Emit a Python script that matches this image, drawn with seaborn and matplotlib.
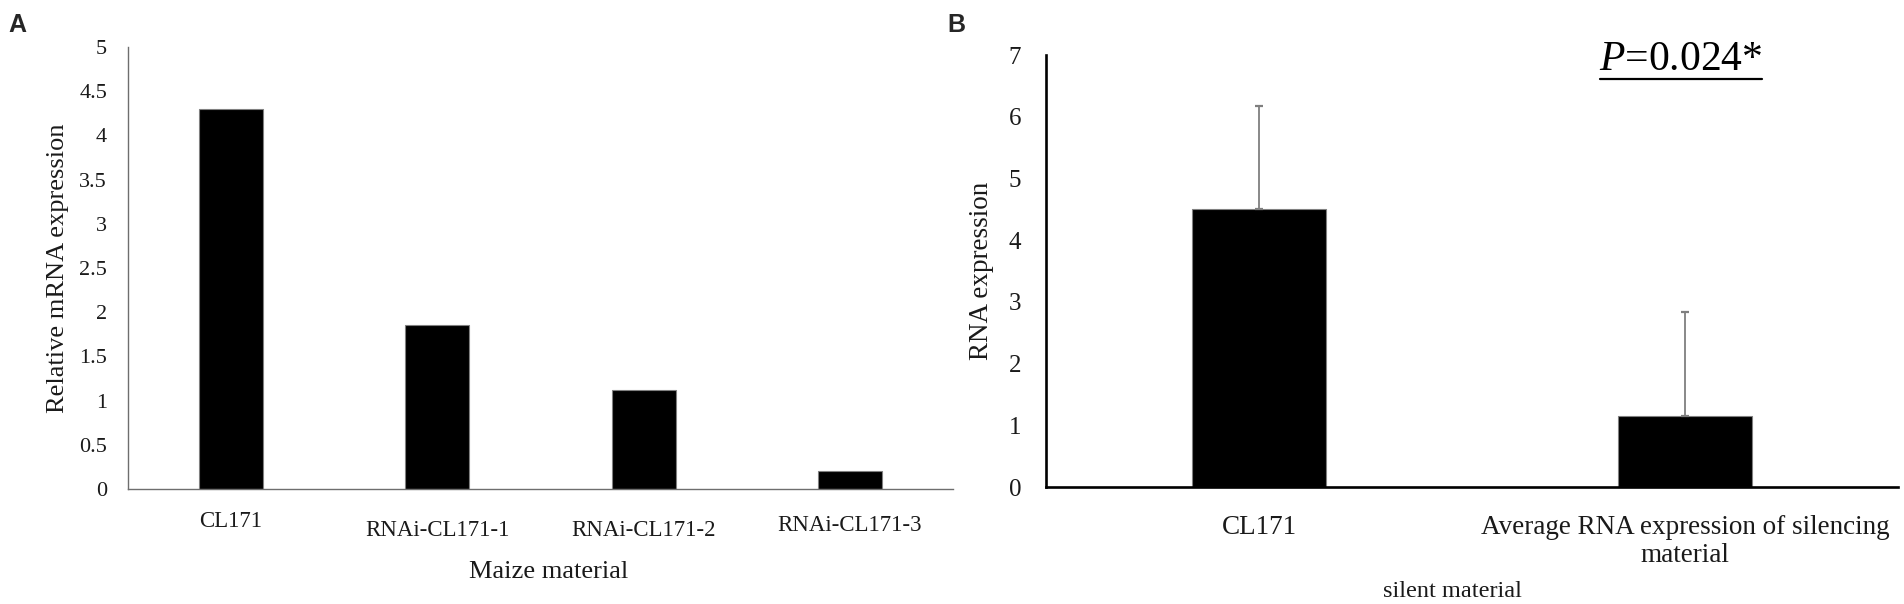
import matplotlib
matplotlib.use("Agg")
import matplotlib.pyplot as plt
import seaborn as sns
from matplotlib.lines import Line2D
from matplotlib.transforms import ScaledTranslation

# ---- data ----
a_categories = ["CL171", "RNAi-CL171-1", "RNAi-CL171-2", "RNAi-CL171-3"]
a_values = [4.3, 1.85, 1.12, 0.2]
a_yticks = [0, 0.5, 1, 1.5, 2, 2.5, 3, 3.5, 4, 4.5, 5]

b_categories = ["CL171", "Average RNA expression of silencing\nmaterial"]
b_values = [4.5, 1.15]
b_err_upper = [1.67, 1.69]
b_yticks = [0, 1, 2, 3, 4, 5, 6, 7]
p_text = r"$P$=0.024*"

sns.set_style("white")
plt.rcParams["font.family"] = ["Liberation Serif", "DejaVu Serif"]
plt.rcParams["mathtext.fontset"] = "custom"
plt.rcParams["mathtext.rm"] = "Liberation Serif"
plt.rcParams["mathtext.it"] = "Liberation Serif:italic"

W, H = 1904, 604
fig = plt.figure(figsize=(W / 100, H / 100), dpi=100)

def px_axes(left, top, right, bottom):
    return fig.add_axes([left / W, 1 - bottom / H, (right - left) / W, (bottom - top) / H])

txt = "#1a1a1a"

# ---------------- Panel A ----------------
axA = px_axes(128, 47, 953, 489)
sns.barplot(x=a_categories, y=a_values, color="black", saturation=1, width=0.31,
            edgecolor="#808080", linewidth=0.8, ax=axA)
axA.set_xlim(-0.5, len(a_categories) - 0.5)
axA.set_ylim(0, 5)
axA.set_yticks(a_yticks)
axA.set_yticklabels([f"{t:g}" for t in a_yticks])
for s in ["top", "right"]:
    axA.spines[s].set_visible(False)
for s in ["left", "bottom"]:
    axA.spines[s].set_color("#6e6e6e")
    axA.spines[s].set_linewidth(1.0)
axA.tick_params(axis="both", length=0, labelcolor=txt)
axA.tick_params(axis="y", labelsize=16, pad=15)
axA.tick_params(axis="x", labelsize=16.5, pad=22)
offsA = [9, 0, 0, 5]
for lab, dy in zip(axA.get_xticklabels(), offsA):
    lab.set_transform(lab.get_transform() + ScaledTranslation(0, dy / 100, fig.dpi_scale_trans))
axA.set_ylabel("Relative mRNA expression", fontsize=19, color=txt, va="center")
axA.yaxis.set_label_coords(-0.085, 0.5)
axA.set_xlabel("Maize material", fontsize=19, color=txt, va="center")
axA.xaxis.set_label_coords(0.51, -0.188)

# ---------------- Panel B ----------------
axB = px_axes(1046, 55, 1898, 487)
sns.barplot(x=b_categories, y=b_values, color="black", saturation=1, width=0.315,
            edgecolor="#808080", linewidth=0.8, ax=axB)
axB.errorbar(x=range(len(b_values)), y=b_values,
             yerr=[[0] * len(b_values), b_err_upper],
             fmt="none", ecolor="#7f7f7f", elinewidth=1.3, capsize=3.2, capthick=1.6)
axB.set_xlim(-0.5, len(b_categories) - 0.5)
axB.set_ylim(0, 7)
axB.set_yticks(b_yticks)
for s in ["top", "right"]:
    axB.spines[s].set_visible(False)
for s in ["left", "bottom"]:
    axB.spines[s].set_color("black")
    axB.spines[s].set_linewidth(1.9)
axB.tick_params(axis="both", length=0, labelcolor=txt)
axB.tick_params(axis="y", labelsize=18, pad=18)
axB.tick_params(axis="x", labelsize=19.5, pad=20)
for lab in axB.get_xticklabels():
    lab.set_multialignment("center")
    lab.set_linespacing(1.15)
axB.set_ylabel("RNA expression", fontsize=19.5, color=txt, va="center")
axB.yaxis.set_label_coords(-0.076, 0.5)
axB.set_xlabel("silent material", fontsize=17.5, color=txt, va="center")
axB.xaxis.set_label_coords(0.477, -0.243)

# P-value annotation
fig.text(1681 / W, 1 - 70 / H, p_text, fontsize=30, ha="center", va="baseline", color="black")
fig.add_artist(Line2D([1600 / W, 1762 / W], [1 - 79 / H, 1 - 79 / H],
                      transform=fig.transFigure, color="black", linewidth=1.6))

# Panel letters
fig.text(8 / W, 1 - 32 / H, "A", fontsize=18, fontweight="bold",
         family="Liberation Sans", ha="left", va="baseline")
fig.text(947 / W, 1 - 32 / H, "B", fontsize=18, fontweight="bold",
         family="Liberation Sans", ha="left", va="baseline")

fig.savefig("out.png", dpi=100)
